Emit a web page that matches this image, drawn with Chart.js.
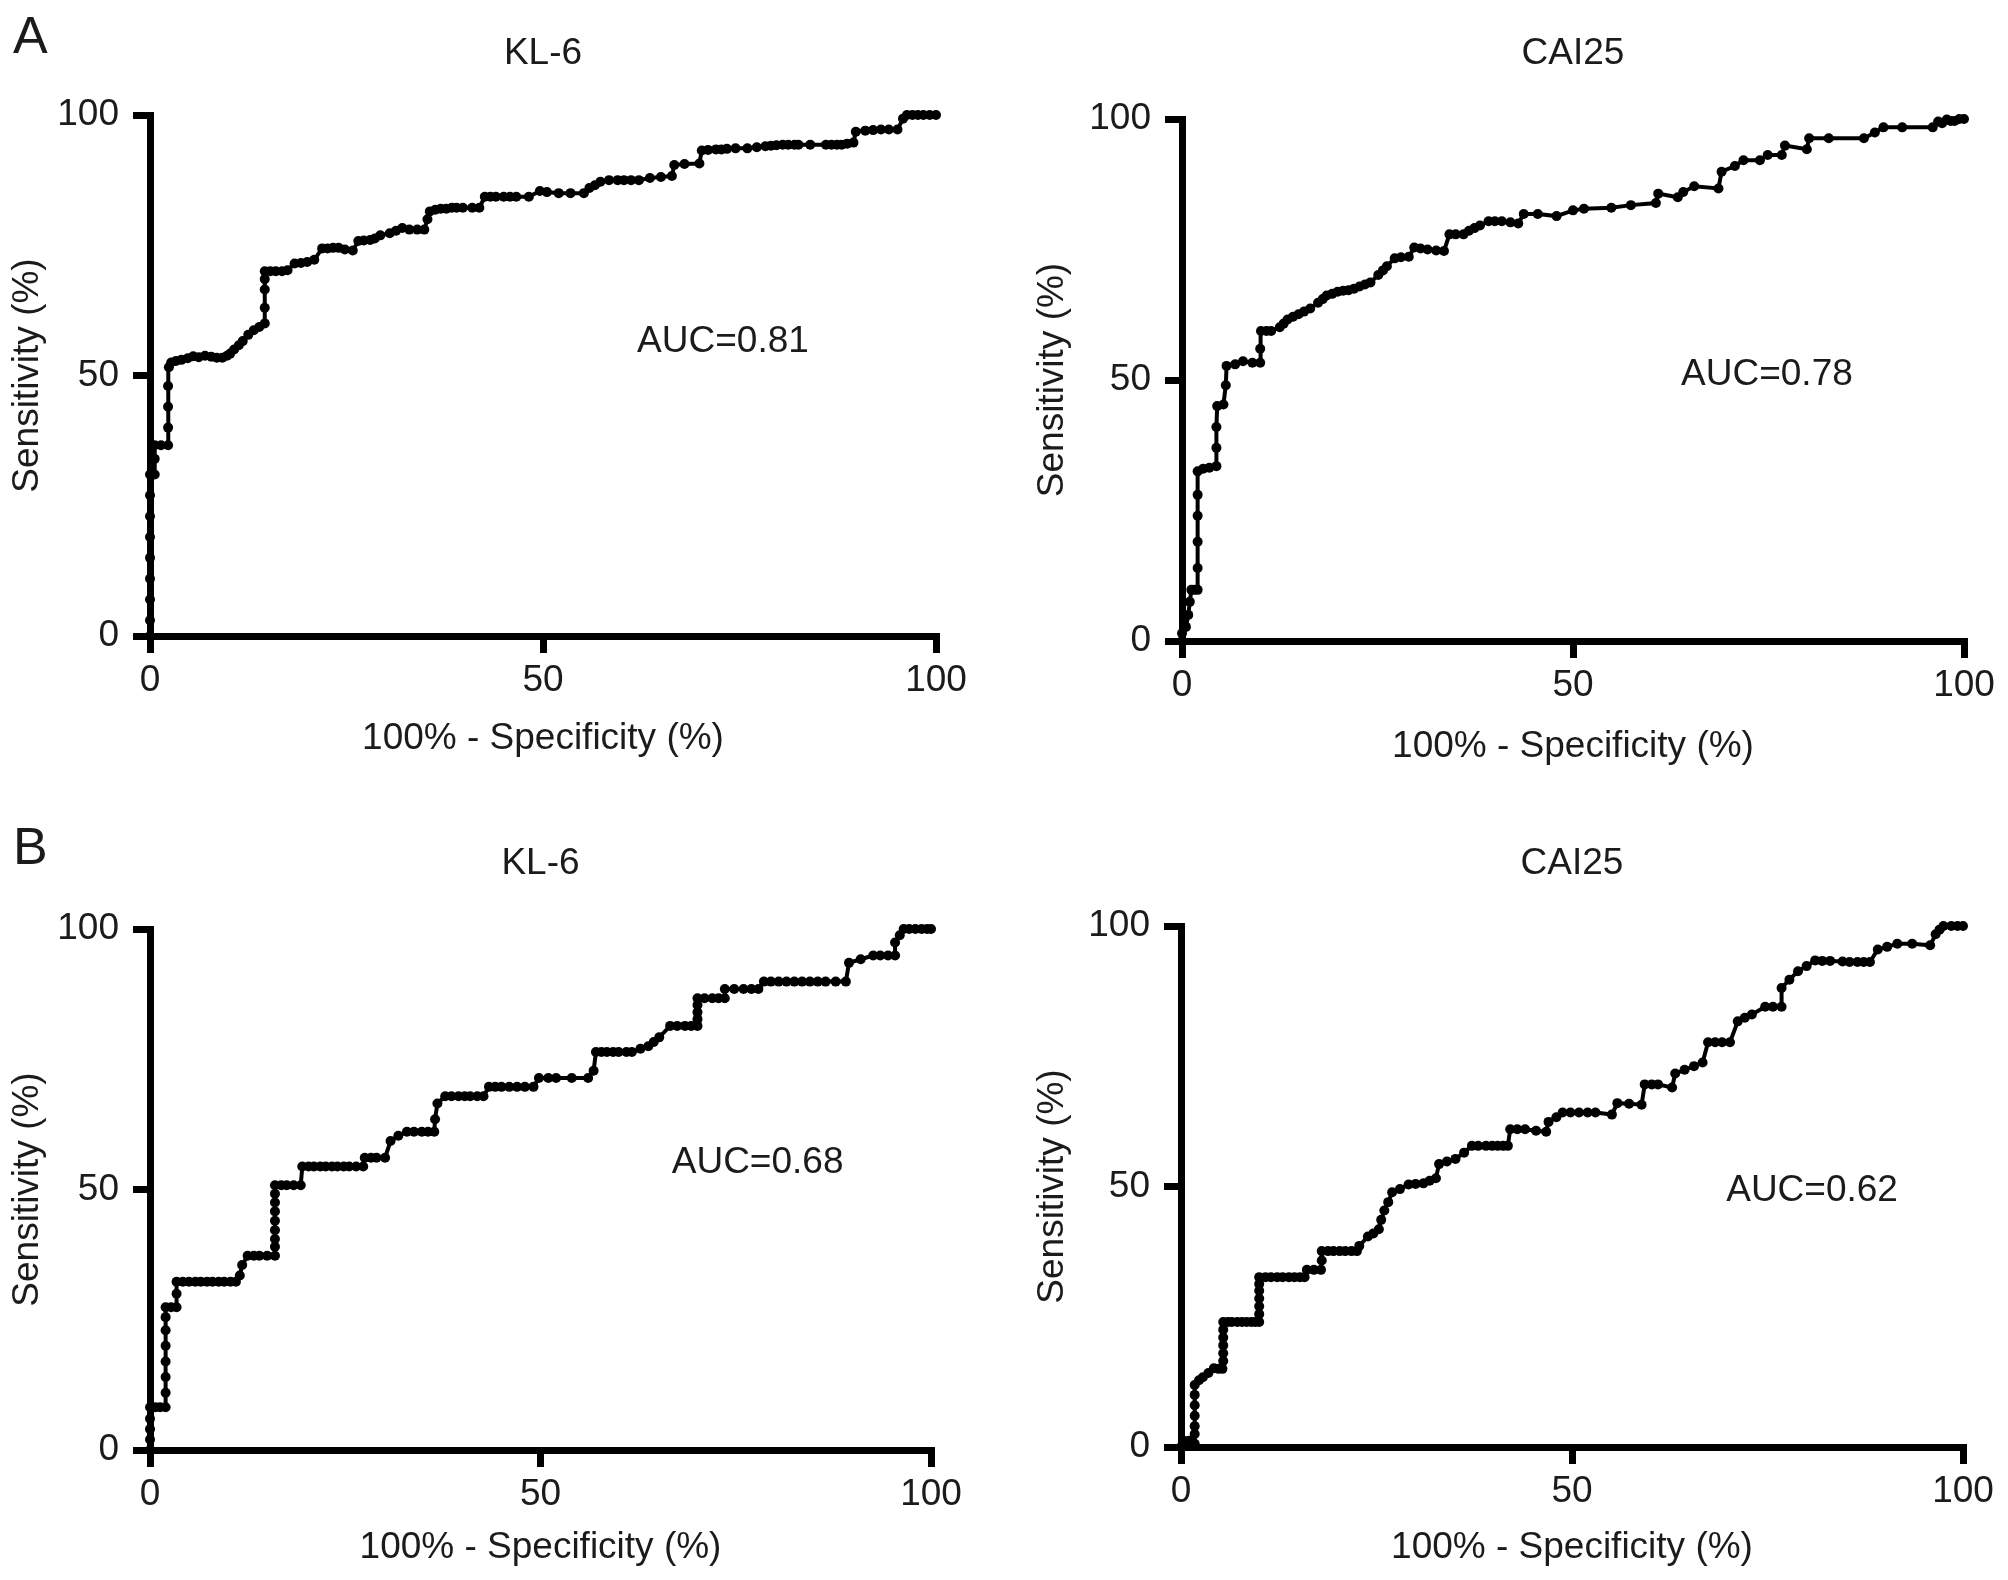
<!DOCTYPE html>
<html>
<head>
<meta charset="utf-8">
<script src="https://cdn.jsdelivr.net/npm/chart.js@4.4.1/dist/chart.umd.min.js"></script>
<style>
  html, body { margin: 0; padding: 0; background: #fff; }
  body { width: 2008px; height: 1580px; position: relative; overflow: hidden; }
  .panel { position: absolute; width: 1004px; height: 790px; }
</style>
</head>
<body>
<div class="panel" style="left:0;top:0"><canvas id="chartA1" width="1004" height="790"></canvas></div>
<div class="panel" style="left:1004px;top:0"><canvas id="chartA2" width="1004" height="790"></canvas></div>
<div class="panel" style="left:0;top:790px"><canvas id="chartB1" width="1004" height="790"></canvas></div>
<div class="panel" style="left:1004px;top:790px"><canvas id="chartB2" width="1004" height="790"></canvas></div>
<script>
// Подписи
const markerNames = ['KL-6', 'CAI25'];
const aucLabels = ['AUC=0.81', 'AUC=0.78', 'AUC=0.68', 'AUC=0.62'];
const axisTicks = [0, 50, 100];
const xAxisTitle = '100% - Specificity (%)';
const yAxisTitle = 'Sensitivity (%)';

// ROC-точки: [100% - специфичность, чувствительность]
// A, KL-6
const aKl6Roc = [[0,0],[0,3],[0,7],[0,11],[0,15],[0,19],[0,23],[0,27],[0,31],[0.6,31],[0.6,34],[0.6,36.6],[1.4,36.6],[2.3,36.6],[2.3,40],[2.3,44],[2.3,48],[2.4,51.6],[2.7,52.5],[3.3,52.8],[4,53],[4.8,53.3],[5.5,53.7],[6.2,53.5],[7,53.8],[7.8,53.6],[8.5,53.4],[9.2,53.4],[9.8,53.8],[10.2,54.2],[10.7,55],[11.3,55.8],[11.8,56.6],[12.5,57.8],[13.2,58.7],[13.9,59.3],[14.6,60],[14.6,63],[14.6,66.5],[14.6,68.5],[14.6,70],[15.3,70],[16,70],[16.8,70],[17.5,70.2],[18.4,71.5],[19.2,71.6],[20,71.8],[20.9,72.2],[21.9,74.4],[22.6,74.4],[23.3,74.5],[24,74.5],[24.8,74.2],[25.8,74],[26.5,75.8],[27.2,75.9],[28,76],[28.6,76.3],[29.3,76.9],[30.5,77.3],[31.3,77.8],[32.1,78.3],[33,78],[34,78],[34.9,78],[35.3,80],[35.6,81.5],[36.3,81.8],[37,82],[37.7,82],[38.4,82.2],[39,82.2],[39.8,82.2],[41,82.2],[41.9,82.2],[42.6,84.3],[43.3,84.3],[44,84.3],[45,84.3],[45.8,84.3],[46.6,84.3],[48.2,84.3],[49.6,85.4],[50.5,85.2],[52,85],[53.5,85],[55.2,85],[55.9,86],[56.6,86.5],[57.3,87.2],[58.4,87.5],[59.5,87.5],[60.3,87.5],[61.2,87.5],[62.2,87.5],[63.6,87.9],[65,88.1],[66.4,88.3],[66.7,90.4],[68,90.6],[69.9,90.7],[70.2,93.2],[71,93.3],[72,93.4],[72.7,93.4],[73.4,93.5],[74.5,93.6],[76,93.6],[77.2,93.8],[78.3,94],[79,94.1],[79.7,94.2],[80.5,94.3],[81.2,94.3],[82,94.3],[82.5,94.3],[84,94.3],[86,94.3],[86.7,94.3],[87.4,94.3],[88,94.3],[88.7,94.5],[89.5,94.7],[89.8,96.8],[91,97],[92,97.1],[93,97.2],[94,97.2],[95.1,97.2],[95.8,99.3],[96.3,100],[97,100],[97.7,100],[98.4,100],[99.2,100],[100,100]];

// A, CAI25
const aCa125Roc = [[0,0],[0,1.5],[0.5,2.7],[0.8,5],[1,7.5],[1.2,9.8],[1.6,9.8],[2,9.8],[2,14],[2,19],[2,24],[2,28],[2,32.5],[2.7,33],[3.5,33.2],[4.4,33.5],[4.4,37],[4.4,41],[4.5,45],[5.3,45.3],[5.6,49],[5.7,52.7],[6.8,53],[7.8,53.6],[9,53.3],[10,53.3],[10,56],[10.1,59.4],[10.8,59.4],[11.4,59.4],[12.5,60.1],[13,60.8],[13.5,61.6],[14.2,62.1],[14.9,62.6],[15.6,63.1],[16.4,63.7],[17.4,64.8],[18,65.5],[18.5,66.2],[19.2,66.5],[19.9,66.9],[20.6,67.1],[21.3,67.2],[22,67.5],[22.7,67.9],[23.4,68.3],[24.1,68.7],[25.1,70.1],[25.7,71],[26.2,71.8],[27.2,73.3],[28,73.5],[29,73.6],[29.7,75.4],[30.5,75.2],[31.4,75],[32.5,74.8],[33.5,74.7],[34.2,77.9],[35,77.9],[36,77.9],[36.7,78.6],[37.4,79.1],[38.1,79.6],[39.2,80.4],[40,80.4],[40.9,80.4],[42,80.2],[43,80],[43.7,81.8],[45.5,81.8],[47.9,81.4],[50,82.5],[51.4,82.8],[54.9,83],[57.4,83.5],[60.6,83.9],[60.9,85.7],[63.4,85],[64.1,86],[65.5,87.1],[68.6,86.7],[69,89.9],[70.7,91],[71.8,92.1],[73.9,92.1],[74.9,93.1],[76.7,93.1],[77.1,94.9],[79.9,94.2],[80.2,96.3],[82.7,96.3],[87.2,96.3],[88.6,97.4],[89.7,98.4],[92.1,98.4],[96,98.4],[96.7,99.5],[97.2,99.2],[97.8,99.9],[98.3,99.6],[98.8,99.6],[99.4,100],[100,100]];

// B, KL-6
const bKl6Roc = [[0,0],[0,2],[0,4],[0,6],[0,8.2],[0.7,8.2],[1.3,8.2],[2,8.2],[2,11],[2,14],[2,17],[2,20],[2,23],[2,25.5],[2,27.4],[2.7,27.4],[3.4,27.4],[3.4,30],[3.4,32.3],[4.2,32.3],[5,32.3],[5.8,32.3],[6.5,32.3],[7.3,32.3],[8,32.3],[8.8,32.3],[9.5,32.3],[10.3,32.3],[11,32.3],[11.5,33.5],[11.8,35.5],[12.5,37.3],[13.3,37.3],[14,37.3],[15,37.3],[16,37.3],[16,39],[16,40.5],[16,42.2],[16,44],[16,45.8],[16,47.5],[16,49.2],[16,50.8],[16.8,50.8],[17.5,50.8],[18.4,50.8],[19.3,50.8],[19.5,54.4],[20.3,54.4],[21,54.4],[21.8,54.4],[22.5,54.4],[23.3,54.4],[24,54.4],[24.8,54.4],[25.5,54.4],[26.4,54.4],[27.3,54.4],[27.5,56.1],[28.3,56.1],[29,56.1],[30.1,56.1],[30.8,59.3],[31.8,60.3],[32.9,61.1],[33.8,61.1],[34.8,61.1],[35.6,61.1],[36.4,61.1],[36.5,63.5],[36.8,66.5],[37.8,67.9],[38.6,67.9],[39.5,67.9],[40.3,67.9],[41,67.9],[41.9,67.9],[42.7,67.9],[43.4,69.7],[44.2,69.7],[45,69.7],[46,69.7],[47,69.7],[48,69.7],[49.1,69.7],[49.8,71.4],[51,71.4],[52,71.4],[54,71.4],[56.1,71.4],[56.8,72.8],[57.1,76.4],[57.8,76.4],[58.5,76.4],[59.3,76.4],[60,76.4],[61,76.4],[61.7,76.4],[62.8,77],[63.8,77.5],[64.5,78.3],[65.2,79.2],[66.6,81.4],[67.5,81.4],[68.5,81.4],[69.3,81.4],[70.1,81.4],[70.1,82.7],[70.1,84],[70.1,85.4],[70.1,86.7],[71,86.7],[72,86.7],[72.8,86.7],[73.6,86.7],[73.6,88.5],[74.8,88.5],[76,88.5],[77,88.5],[77.9,88.5],[78.6,89.9],[79.5,89.9],[80.5,89.9],[81.5,89.9],[82.5,89.9],[83.5,89.9],[84.5,89.9],[85.5,89.9],[86.5,89.9],[87.8,89.9],[89.1,89.9],[89.5,93.5],[91,94.2],[92.6,94.9],[93.5,94.9],[94.5,94.9],[95.4,94.9],[95.4,97.4],[96,98.8],[96.5,100],[97.2,100],[98,100],[98.8,100],[99.5,100],[100,100]];

// B, CAI25
const bCa125Roc = [[0,0],[0.35,1.2],[0.7,1],[1.05,1.2],[1.4,0.8],[1.75,0.6],[1.75,2.5],[1.75,4],[1.75,6],[1.75,8],[1.75,10],[1.75,11.9],[2.3,12.8],[2.8,13.4],[3.5,14.2],[4.2,15.1],[4.8,15],[5.3,15],[5.4,16.5],[5.4,18],[5.4,19.5],[5.4,21],[5.4,22.5],[5.4,24],[6,24],[6.5,24],[7.2,24],[7.8,24],[8.4,24],[9,24],[9.5,24],[10,24],[10,25.5],[10,27],[10,28.5],[10,30],[10,31.3],[10,32.6],[10.8,32.6],[11.5,32.6],[12.3,32.6],[13,32.6],[13.8,32.6],[14.5,32.6],[15.2,32.6],[15.8,32.6],[16.1,34],[17,34],[17.9,34],[18,35.8],[18,37.6],[18.8,37.6],[19.5,37.6],[20.3,37.6],[21,37.6],[21.8,37.6],[22.5,37.6],[22.8,38.6],[23.9,40.4],[24.6,41],[25.3,41.8],[25.6,43.6],[26,45.4],[26.5,47],[27,48.9],[28,49.5],[29.1,50.4],[30,50.5],[31,50.6],[31.8,51.1],[32.6,51.6],[33,54.3],[34,54.8],[35.1,55.3],[36.2,56.5],[37.2,57.8],[38,57.8],[39,57.8],[39.8,57.8],[40.5,57.8],[41.2,57.8],[41.8,57.8],[42.1,61],[43,61],[44,61],[45.4,60.7],[46.7,60.5],[47,62.4],[48,63.3],[48.8,64.2],[49.8,64.2],[50.9,64.2],[52,64.2],[53,64.2],[55.1,63.8],[55.8,66],[57.3,65.9],[58.9,65.7],[59.3,69.6],[60.2,69.6],[61,69.6],[62.8,69],[63.2,71.7],[64.4,72.4],[65.6,73.1],[66.7,73.8],[67.4,77.7],[68.3,77.7],[69.2,77.7],[70.2,77.7],[71.2,81.7],[72.1,82.4],[73,83],[74.7,84.5],[75.7,84.5],[76.8,84.5],[76.8,88.1],[77.8,89.7],[78.9,91.3],[80,92.3],[81.1,93.4],[82,93.3],[83,93.3],[84.6,93.2],[85.5,93.1],[86.5,93.1],[87.3,93.1],[88.1,93.1],[89.1,95.5],[90.3,96],[91.6,96.6],[93.5,96.6],[95.8,96.3],[96.5,98.4],[97,99.3],[97.5,100],[98.5,100],[99.3,100],[100,100]];

const TEXT_COLOR = '#1b1b1b';
const FONT_FAMILY = "'Liberation Sans', Arial, Helvetica, sans-serif";
const baseFont = { family: FONT_FAMILY, size: 37 };

function toPoints(pairs) {
    return pairs.map(p => ({ x: p[0], y: p[1] }));
}

// Подписи внутри панели: заголовок, AUC, буква панели
const panelText = {
    id: 'panelText',
    afterDraw(chart, args, opts) {
        const { ctx, chartArea, scales } = chart;
        ctx.save();
        ctx.fillStyle = TEXT_COLOR;
        ctx.font = `37px ${FONT_FAMILY}`;
        ctx.textAlign = 'center';
        ctx.textBaseline = 'middle';
        ctx.fillText(opts.title, (chartArea.left + chartArea.right) / 2, opts.titleY);
        ctx.fillText(opts.auc, scales.x.getPixelForValue(opts.aucX), scales.y.getPixelForValue(opts.aucY));
        if (opts.letter) {
            ctx.font = `52px ${FONT_FAMILY}`;
            ctx.textAlign = 'left';
            ctx.textBaseline = 'alphabetic';
            ctx.fillText(opts.letter, 13, opts.letterY);
        }
        ctx.restore();
    }
};

function makePanel(id, cfg) {
    const ctx = document.getElementById(id).getContext('2d');
    const axisCommon = {
        type: 'linear',
        min: 0,
        max: 100,
        afterBuildTicks: (s) => { s.ticks = axisTicks.map(v => ({ value: v })); },
        grid: {
            drawOnChartArea: false,
            drawTicks: true,
            tickLength: 17,
            tickWidth: 7,
            tickColor: '#000',
            lineWidth: 7,
            color: '#000'
        },
        border: { display: true, width: 7, color: '#000' }
    };
    new Chart(ctx, {
        type: 'scatter',
        data: {
            datasets: [{
                data: toPoints(cfg.roc),
                showLine: true,
                borderColor: '#000',
                borderWidth: 4,
                pointRadius: 5,
                pointBackgroundColor: '#000',
                pointBorderWidth: 0,
                tension: 0,
                clip: false
            }]
        },
        options: {
            responsive: false,
            animation: false,
            layout: { padding: cfg.pad },
            plugins: {
                legend: { display: false },
                tooltip: { enabled: false },
                panelText: cfg.text
            },
            scales: {
                x: Object.assign({}, axisCommon, {
                    afterFit: (s) => { s.height = cfg.xH; },
                    ticks: { font: baseFont, color: TEXT_COLOR, padding: 6, maxRotation: 0 },
                    title: { display: true, text: xAxisTitle, font: baseFont, color: TEXT_COLOR, padding: 0 }
                }),
                y: Object.assign({}, axisCommon, {
                    afterFit: (s) => { s.width = cfg.yW; },
                    ticks: { font: baseFont, color: TEXT_COLOR, padding: 14 },
                    title: { display: true, text: yAxisTitle, font: baseFont, color: TEXT_COLOR, padding: 0 }
                })
            }
        },
        plugins: [panelText]
    });
}

makePanel('chartA1', {
    roc: aKl6Roc,
    pad: { left: 5.8, right: 68, top: 115, bottom: 28.8 }, yW: 144.2, xH: 125.2,
    text: { title: markerNames[0], titleY: 54, auc: aucLabels[0], aucX: 72.9, aucY: 56.4, letter: 'A', letterY: 53 }
});
makePanel('chartA2', {
    roc: aCa125Roc,
    pad: { left: 26.8, right: 44, top: 119, bottom: 21.2 }, yW: 151.2, xH: 127.8,
    text: { title: markerNames[1], titleY: 54, auc: aucLabels[1], aucX: 74.8, aucY: 51.0 }
});
makePanel('chartB1', {
    roc: bKl6Roc,
    pad: { left: 5.8, right: 73, top: 139, bottom: 9.8 }, yW: 144.2, xH: 120.2,
    text: { title: markerNames[0], titleY: 74, auc: aucLabels[2], aucX: 77.8, aucY: 55.1, letter: 'B', letterY: 74 }
});
makePanel('chartB2', {
    roc: bCa125Roc,
    pad: { left: 26.8, right: 45, top: 136, bottom: 9.8 }, yW: 150.2, xH: 123.2,
    text: { title: markerNames[1], titleY: 74, auc: aucLabels[3], aucX: 80.7, aucY: 49.1 }
});
</script>
</body>
</html>
